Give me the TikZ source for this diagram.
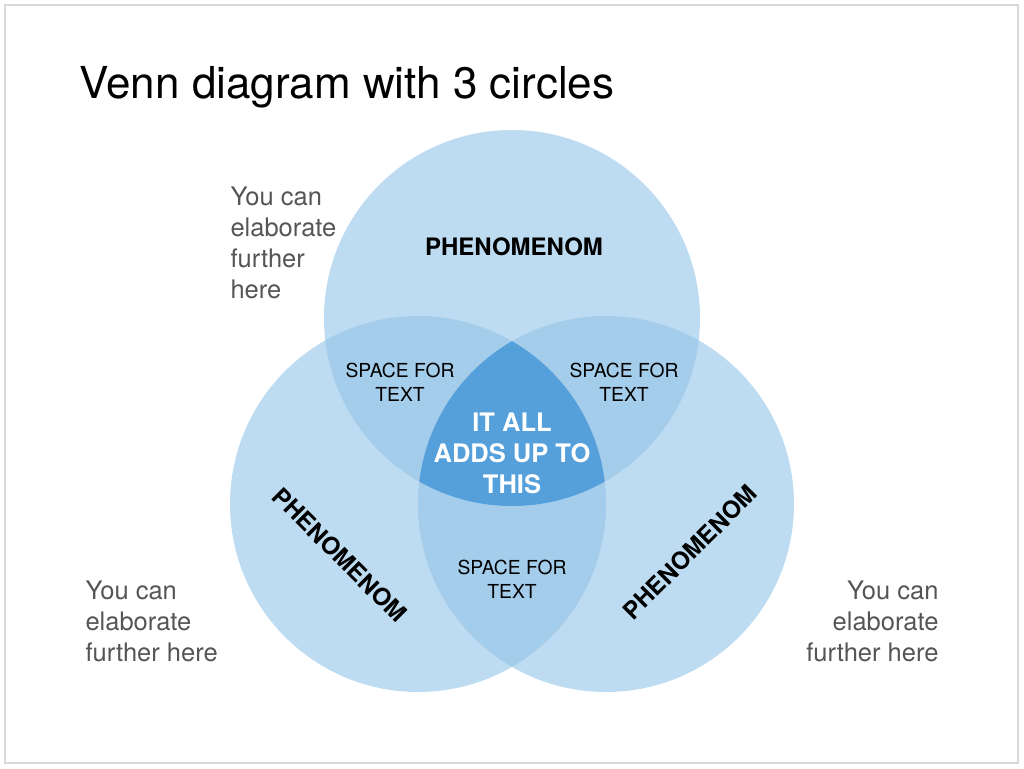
\documentclass[tikz,border=0pt]{standalone}
\usepackage{fontspec}
\setmainfont{TeX Gyre Heros}
\begin{document}
\begin{tikzpicture}[x=1pt,y=-1pt,
  gray/.style={text=g1,font=\fontsize{25.5}{31}\selectfont,align=left,anchor=north west},
  phen/.style={font=\fontsize{24}{28}\selectfont\bfseries},
  spc/.style={font=\fontsize{19.3}{24}\selectfont,align=center}]
\definecolor{c1}{HTML}{BEDCF1}
\definecolor{c2}{HTML}{A4CCEB}
\definecolor{c3}{HTML}{55A0DB}
\definecolor{g1}{HTML}{555555}
\useasboundingbox (0,0) rectangle (1024,768);
\draw[draw=black!15,line width=1.5] (5,5) rectangle (1018,763);
\node[anchor=west,font=\fontsize{44}{52}\selectfont] (title) at (76,87) {Venn diagram with 3 circles};
\coordinate (T) at (512,318); \coordinate (L) at (418,504); \coordinate (R) at (606,504);
\fill[c1] (T) circle (188); \fill[c1] (L) circle (188); \fill[c1] (R) circle (188);
\begin{scope}\clip (T) circle (188); \fill[c2] (L) circle (188); \fill[c2] (R) circle (188);\end{scope}
\begin{scope}\clip (L) circle (188); \fill[c2] (R) circle (188);\end{scope}
\begin{scope}\clip (T) circle (188); \clip (L) circle (188); \fill[c3] (R) circle (188);\end{scope}
\node[phen] (p1) at (514,247) {PHENOMENOM};
\node[phen,rotate=-45] (p2) at (340,555) {PHENOMENOM};
\node[phen,rotate=45] (p3) at (690,552) {PHENOMENOM};
\node[spc] (s1) at (400,382) {SPACE FOR\\TEXT};
\node[spc] (s2) at (624,382) {SPACE FOR\\TEXT};
\node[spc] (s3) at (512,579) {SPACE FOR\\TEXT};
\node[align=center,text=white,font=\fontsize{25.5}{31}\selectfont\bfseries] (c) at (512,453) {IT ALL\\ADDS UP TO\\THIS};
\node[gray] (g1) at (227,183) {You can\\elaborate\\further\\here};
\node[gray] (g2) at (82,577) {You can\\elaborate\\further here};
\node[gray,align=right,anchor=north east] (g3) at (942,577) {You can\\elaborate\\further here};
\end{tikzpicture}
\end{document}
